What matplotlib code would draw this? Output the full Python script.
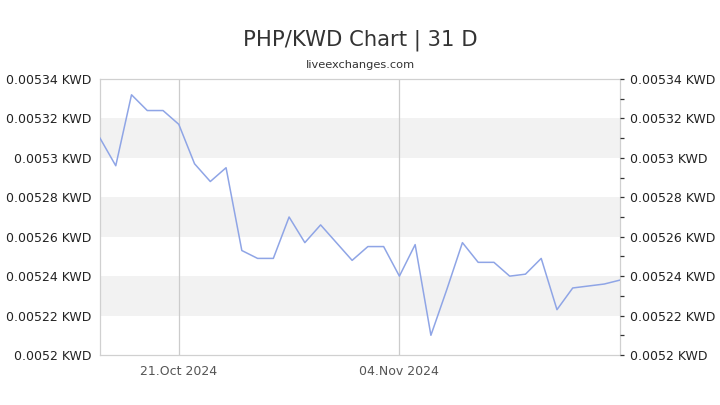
"""
PHP/KWD 31 day chart, liveexchanges style.
"""

import datetime as dt
import numpy as np
import pandas as pd
import matplotlib
matplotlib.use('Agg')
from matplotlib import pyplot as plt
import matplotlib.dates as mdates
from matplotlib.ticker import FuncFormatter, MultipleLocator

dates = pd.date_range('2024-10-16', '2024-11-18', freq='D')
rates = [0.005310, 0.005296, 0.005332, 0.005324, 0.005324, 0.005317,
         0.005297, 0.005288, 0.005295, 0.005253, 0.005249, 0.005249,
         0.005270, 0.005257, 0.005266, 0.005257, 0.005248, 0.005255,
         0.005255, 0.005240, 0.005256, 0.005210, 0.005233, 0.005257,
         0.005247, 0.005247, 0.005240, 0.005241, 0.005249, 0.005223,
         0.005234, 0.005235, 0.005236, 0.005238]
y_ticks = [0.0052, 0.00522, 0.00524, 0.00526, 0.00528, 0.0053, 0.00532, 0.00534]
x_ticks = ['2024-10-21', '2024-11-04']


def fmt_rate(v, pos=None):
    return f'{v:.5f}'.rstrip('0') + ' KWD'


def plot_rates():
    fig = plt.figure(figsize=(7.2, 4.05), dpi=100)
    ax = fig.add_axes([100 / 720, 1 - 355 / 405, 520 / 720, 276 / 405])

    # alternating bands
    for i in range(1, len(y_ticks) - 1, 2):
        ax.axhspan(y_ticks[i], y_ticks[i + 1], color='#f2f2f2', zorder=0, lw=0)

    xt = pd.to_datetime(x_ticks)
    for d in xt:
        ax.axvline(d, color='#cccccc', lw=0.9, zorder=1)

    ax.plot(dates, rates, color='#8fa5e6', lw=1.1, zorder=3)

    ax.set_xlim(dates[0], dates[-1])
    ax.set_ylim(y_ticks[0], y_ticks[-1])

    ax.set_yticks(y_ticks)
    ax.yaxis.set_major_formatter(FuncFormatter(fmt_rate))
    ax.tick_params(axis='y', length=0, labelsize=9, colors='#222222', pad=6)

    ax.set_xticks(xt)
    ax.xaxis.set_major_formatter(mdates.DateFormatter('%d.%b %Y'))
    ax.tick_params(axis='x', length=0, labelsize=9, labelcolor='#555555', pad=7)

    for s in ax.spines.values():
        s.set_color('#d0d0d0')
        s.set_linewidth(0.9)

    ax2 = ax.twinx()
    ax2.set_ylim(ax.get_ylim())
    ax2.set_yticks(y_ticks)
    ax2.yaxis.set_major_formatter(FuncFormatter(fmt_rate))
    ax2.yaxis.set_minor_locator(MultipleLocator(0.00001))
    ax2.tick_params(axis='y', which='both', left=False, length=3, width=0.9,
                    color='#333333', labelsize=9, labelcolor='#222222', pad=4)
    for s in ax2.spines.values():
        s.set_visible(False)

    fig.text(0.5, 1 - 40 / 405, 'PHP/KWD Chart | 31 D', ha='center', va='center',
             fontsize=15.2, color='#333333')
    fig.text(0.5, 1 - 65 / 405, 'liveexchanges.com', ha='center', va='center',
             fontsize=8.2, color='#333333')

    fig.savefig('out.png', dpi=100)


if __name__ == '__main__':
    plot_rates()
